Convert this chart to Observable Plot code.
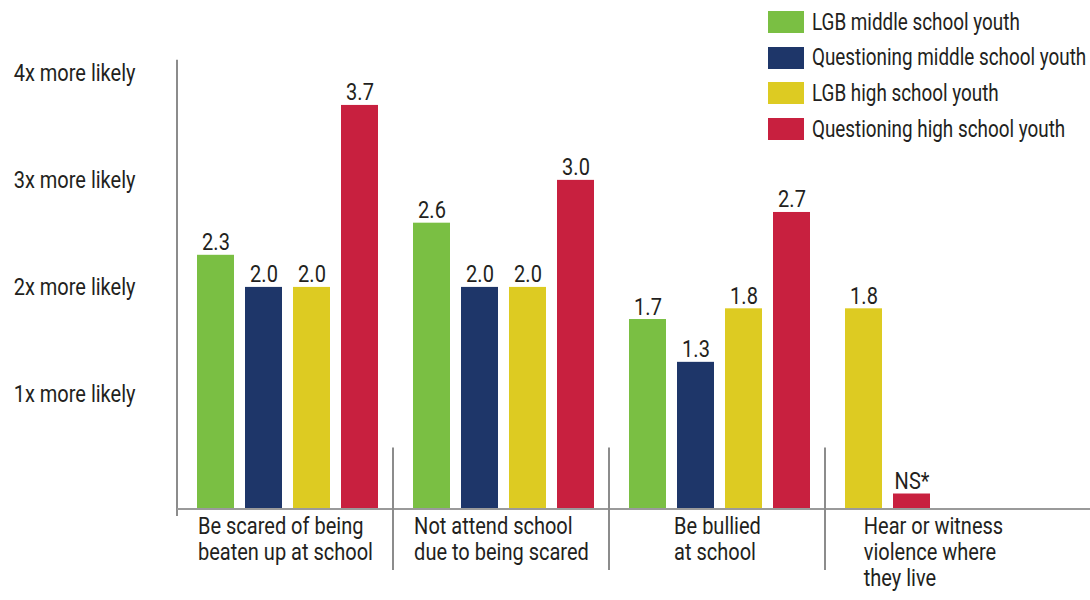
<!DOCTYPE html>
<html>
<head>
<meta charset="utf-8">
<script src="https://cdn.jsdelivr.net/npm/d3@7"></script>
<script src="https://cdn.jsdelivr.net/npm/@observablehq/plot@0.6"></script>
<style>
  html, body { margin: 0; padding: 0; background: #fff; }
  #wrap { position: relative; width: 1090px; height: 600px; overflow: hidden; }
  #legend { position: absolute; left: 768px; top: 11px; font-family: Roboto, sans-serif; font-size: 23px; color: #231f20; }
  #legend .row { display: flex; align-items: center; height: 22px; margin-bottom: 13.7px; white-space: nowrap; }
  #legend .sw { width: 36px; height: 22px; margin-right: 8px; flex: none; }
  #legend span { display: inline-block; transform: scaleX(0.82); transform-origin: left center; }
  svg { overflow: visible; }
</style>
</head>
<body>
<div id="wrap"><div id="legend"></div></div>
<script>
const FONT = 'Roboto, sans-serif';
const FS = 23;          // font size
const SQUEEZE = 0.87;   // horizontal squeeze to imitate the condensed face

// ---- data ----
const categories = [
  "Be scared of being\nbeaten up at school",
  "Not attend school\ndue to being scared",
  "Be bullied\nat school",
  "Hear or witness\nviolence where\nthey live"
];
const series = [
  "LGB middle school youth",
  "Questioning middle school youth",
  "LGB high school youth",
  "Questioning high school youth"
];
const colors = ["#7abf43", "#1e3669", "#ddcb22", "#c8203f"];
const lgbMiddle         = [2.3, 2.6, 1.7, null];
const questioningMiddle = [2.0, 2.0, 1.3, null];
const lgbHigh           = [2.0, 2.0, 1.8, 1.8];
const questioningHigh   = [3.7, 3.0, 2.7, "NS"];
const nsLabel = "NS*";
const nsStub = 0.07;           // small stub bar drawn for the non-significant result
const yTicks = [1, 2, 3, 4];
const yTickLabels = ["1x more likely", "2x more likely", "3x more likely", "4x more likely"];

const seriesValues = [lgbMiddle, questioningMiddle, lgbHigh, questioningHigh];
const rows = [];
categories.forEach((category, ci) => {
  let slot = 0;
  series.forEach((s, si) => {
    const v = seriesValues[si][ci];
    if (v == null) return;
    rows.push({
      category, series: s, slot: slot++,
      bar: v === "NS" ? nsStub : v,
      label: v === "NS" ? nsLabel : v.toFixed(1)
    });
  });
});

// measure category label widths so each label block is centred under its group but left-aligned
const ctx = document.createElement("canvas").getContext("2d");
ctx.font = `${FS}px ${FONT}`;
const labelMarks = categories.map(cat => {
  const w = d3.max(cat.split("\n"), l => ctx.measureText(l).width) * SQUEEZE;
  return Plot.text([cat], {
    fx: d => d, frameAnchor: "bottom", textAnchor: "start", lineAnchor: "top",
    text: d => d, dx: -w / 2, dy: 14, lineHeight: 1.13, fill: "#231f20", fontSize: FS
  });
});

const plot = Plot.plot({
  width: 1090, height: 600,
  marginLeft: 177, marginRight: 49, marginTop: 30, marginBottom: 99,
  style: { fontFamily: FONT, fontSize: FS + "px", color: "#231f20", background: "transparent" },
  fx: { domain: categories, padding: 0, axis: null },
  x: { type: "band", domain: [0, 1, 2, 3], paddingInner: 0.23, paddingOuter: 0.365, align: 0.57, axis: null },
  y: { domain: [0, 4.4], ticks: yTicks, tickFormat: d => yTickLabels[yTicks.indexOf(d)], tickSize: 0, tickPadding: 42, label: null },
  color: { domain: series, range: colors },
  marks: [
    Plot.barY(rows, { fx: "category", x: "slot", y: "bar", fill: "series", insetBottom: -7 }),
    Plot.text(rows, { fx: "category", x: "slot", y: "bar", text: "label", lineAnchor: "bottom", dy: -5, fill: "#231f20", fontSize: FS }),
    ...labelMarks
  ]
});

document.getElementById("wrap").prepend(plot);

// squeeze every text horizontally about its own anchor point
d3.select(plot).selectAll("text").each(function () {
  const t = this.getAttribute("transform");
  if (t && /translate/.test(t)) {
    this.setAttribute("transform", `${t} scale(${SQUEEZE},1)`);
  } else {
    const x = +(this.getAttribute("x") || 0);
    this.setAttribute("transform", `${t || ""} translate(${x},0) scale(${SQUEEZE},1) translate(${-x},0)`);
  }
});

// decorative axis / separator lines, positioned with the plot's own scales
const fx = plot.scale("fx"), y = plot.scale("y");
const svg = d3.select(plot);
const left = fx.range[0];
const y0 = y.apply(0);
svg.append("line").attr("x1", left).attr("x2", left)
  .attr("y1", y.apply(4) - 13).attr("y2", y0 + 15)
  .attr("stroke", "#8c8c8c").attr("stroke-width", 2);
svg.append("line").attr("x1", left).attr("x2", 1090)
  .attr("y1", y0 + 8).attr("y2", y0 + 8)
  .attr("stroke", "#9a9a9a").attr("stroke-width", 2);
categories.slice(1).forEach(cat => {
  const x = fx.apply(cat);
  svg.append("line").attr("x1", x).attr("x2", x)
    .attr("y1", y.apply(0.5)).attr("y2", y0 + 69)
    .attr("stroke", "#8c8c8c").attr("stroke-width", 2);
});

// legend
const legend = d3.select("#legend");
series.forEach((s, i) => {
  const r = legend.append("div").attr("class", "row");
  r.append("div").attr("class", "sw").style("background", colors[i]);
  r.append("span").text(s);
});
</script>
</body>
</html>
